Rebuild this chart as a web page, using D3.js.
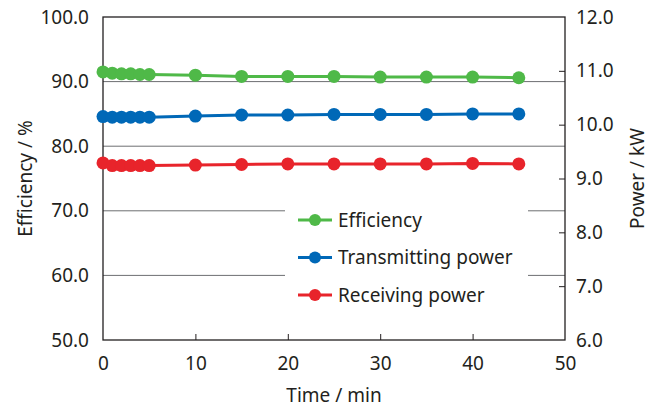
<!DOCTYPE html>
<html>
<head>
<meta charset="utf-8">
<script src="https://cdn.jsdelivr.net/npm/d3@7"></script>
<style>
  body { margin: 0; background: #fff; }
  svg text { font-family: "Noto Sans", "Liberation Sans", sans-serif; fill: #231f20; }
</style>
</head>
<body>
<div id="chart"></div>
<script>
var times = [0, 1, 2, 3, 4, 5, 10, 15, 20, 25, 30, 35, 40, 45];
var efficiency = [91.5, 91.3, 91.2, 91.2, 91.1, 91.1, 91.0, 90.8, 90.8, 90.8, 90.7, 90.7, 90.7, 90.6];
var transmitting = [10.15, 10.14, 10.14, 10.14, 10.14, 10.14, 10.16, 10.18, 10.18, 10.19, 10.19, 10.19, 10.20, 10.20];
var receiving = [9.29, 9.24, 9.24, 9.24, 9.24, 9.24, 9.25, 9.26, 9.27, 9.27, 9.27, 9.27, 9.28, 9.27];
var leftTicks = [50, 60, 70, 80, 90, 100];
var rightTicks = [6, 7, 8, 9, 10, 11, 12];
var xTicks = [0, 10, 20, 30, 40, 50];
var seriesNames = ["Efficiency", "Transmitting power", "Receiving power"];

var width = 657, height = 407;
var margin = { left: 103, right: 92, top: 17, bottom: 67 };

var svg = d3.select('#chart').append('svg')
    .attr('width', width)
    .attr('height', height);

var x = d3.scaleLinear().domain([0, 50]).range([margin.left, width - margin.right]);
var yL = d3.scaleLinear().domain([50, 100]).range([height - margin.bottom, margin.top]);
var yR = d3.scaleLinear().domain([6, 12]).range([height - margin.bottom, margin.top]);

var series = [
    { name: seriesNames[0], values: efficiency, y: yL, color: '#4fb948' },
    { name: seriesNames[1], values: transmitting, y: yR, color: '#0068b7' },
    { name: seriesNames[2], values: receiving, y: yR, color: '#e8242b' }
];

// gridlines
svg.append('g').selectAll('line')
    .data(leftTicks.slice(1, -1))
    .enter().append('line')
    .attr('x1', x(0)).attr('x2', x(50))
    .attr('y1', function(d) { return yL(d); })
    .attr('y2', function(d) { return yL(d); })
    .attr('stroke', '#6d6e71')
    .attr('stroke-width', 1);

// legend background covers gridlines
var lgX = 285, lgY = 200;
svg.append('rect')
    .attr('x', lgX).attr('y', lgY)
    .attr('width', 243).attr('height', 108)
    .attr('fill', '#fff');

// axes
var fontSize = '19px';
var left = svg.append('g').attr('transform', 'translate(' + x(0) + ',0)')
    .call(d3.axisLeft(yL).tickValues(leftTicks).tickSize(0).tickPadding(14).tickFormat(d3.format('.1f')));
var right = svg.append('g').attr('transform', 'translate(' + x(50) + ',0)')
    .call(d3.axisRight(yR).tickValues(rightTicks).tickSize(-6).tickPadding(11).tickFormat(d3.format('.1f')));
var bottom = svg.append('g').attr('transform', 'translate(0,' + yL(50) + ')')
    .call(d3.axisBottom(x).tickValues(xTicks).tickSize(-6).tickPadding(17).tickFormat(d3.format('d')));

[left, right, bottom].forEach(function(g) {
    g.selectAll('text').style('font-size', fontSize);
    g.selectAll('.tick line').attr('stroke', '#231f20');
    g.select('.domain').remove();
});
right.selectAll('.tick').filter(function(d) { return d === 6 || d === 12; }).select('line').remove();
bottom.selectAll('.tick').filter(function(d) { return d === 0 || d === 50; }).select('line').remove();

// frame
svg.append('rect')
    .attr('x', x(0)).attr('y', yL(100))
    .attr('width', x(50) - x(0)).attr('height', yL(50) - yL(100))
    .attr('fill', 'none')
    .attr('stroke', '#231f20')
    .attr('stroke-width', 1.3);

// axis titles
svg.append('text')
    .attr('transform', 'translate(32,' + ((yL(50) + yL(100)) / 2) + ') rotate(-90)')
    .attr('text-anchor', 'middle')
    .style('font-size', fontSize)
    .text('Efficiency / %');
svg.append('text')
    .attr('transform', 'translate(644,' + ((yL(50) + yL(100)) / 2) + ') rotate(-90)')
    .attr('text-anchor', 'middle')
    .style('font-size', fontSize)
    .text('Power / kW');
svg.append('text')
    .attr('x', (x(0) + x(50)) / 2)
    .attr('y', 402)
    .attr('text-anchor', 'middle')
    .style('font-size', fontSize)
    .text('Time / min');

// series
series.forEach(function(s) {
    var line = d3.line()
        .x(function(d, i) { return x(times[i]); })
        .y(function(d) { return s.y(d); });
    var g = svg.append('g');
    g.append('path')
        .datum(s.values)
        .attr('d', line)
        .attr('fill', 'none')
        .attr('stroke', s.color)
        .attr('stroke-width', 3);
    g.selectAll('circle')
        .data(s.values)
        .enter().append('circle')
        .attr('cx', function(d, i) { return x(times[i]); })
        .attr('cy', function(d) { return s.y(d); })
        .attr('r', 6.5)
        .attr('fill', s.color);
});

// legend
var legend = svg.append('g').selectAll('g')
    .data(series)
    .enter().append('g')
    .attr('transform', function(d, i) { return 'translate(' + (lgX + 13) + ',' + (220 + i * 37.5) + ')'; });
legend.append('line')
    .attr('x1', 0).attr('x2', 34)
    .attr('stroke', function(d) { return d.color; })
    .attr('stroke-width', 3);
legend.append('circle')
    .attr('cx', 17).attr('r', 6)
    .attr('fill', function(d) { return d.color; });
legend.append('text')
    .attr('x', 40)
    .attr('dy', '0.35em')
    .style('font-size', fontSize)
    .text(function(d) { return d.name; });
</script>
</body>
</html>
